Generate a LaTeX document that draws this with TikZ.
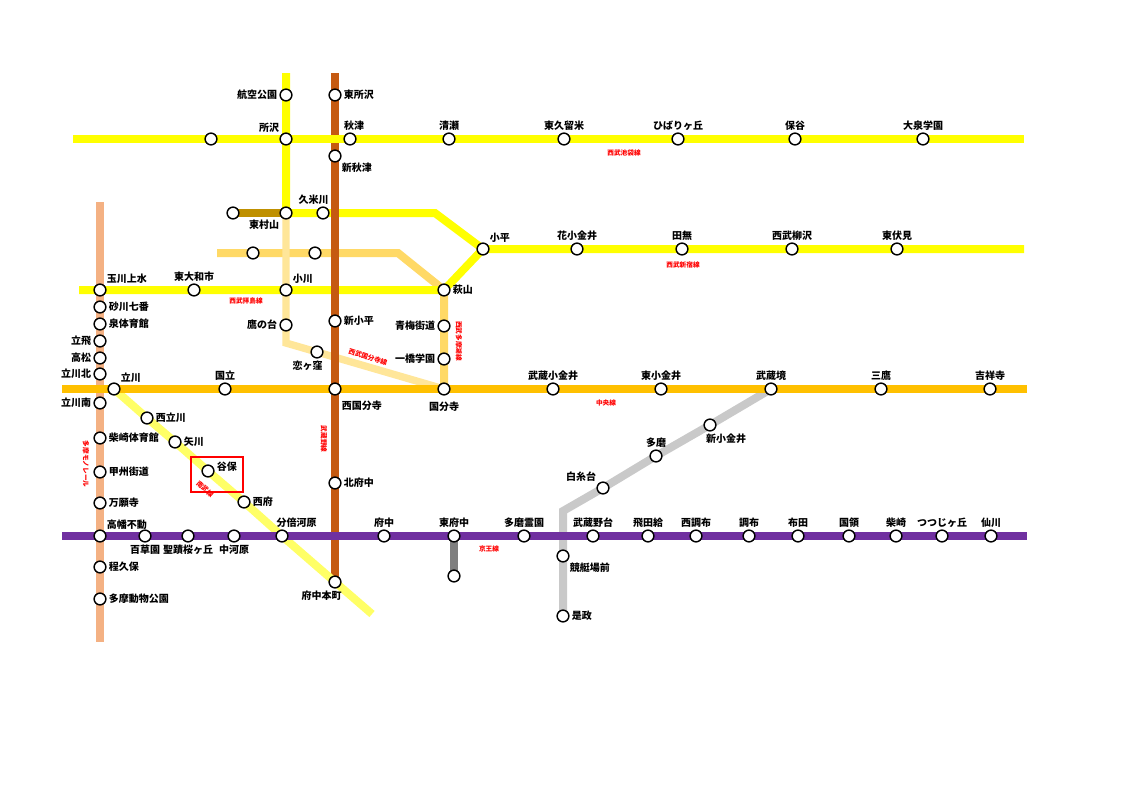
\documentclass[tikz,border=0pt]{standalone}
\usepackage{fontspec}
\setmainfont{Noto Sans CJK JP}

\definecolor{seibu}{HTML}{FFFF00}
\definecolor{tamako}{HTML}{FFD966}
\definecolor{kokubunjisen}{HTML}{FFE699}
\definecolor{yuenchi}{HTML}{BF9000}
\definecolor{musashino}{HTML}{C55A11}
\definecolor{chuo}{HTML}{FFC000}
\definecolor{monorail}{HTML}{F4B183}
\definecolor{nanbu}{HTML}{FFFF66}
\definecolor{keio}{HTML}{7030A0}
\definecolor{keibajo}{HTML}{7F7F7F}
\definecolor{tamagawa}{HTML}{C9C9C9}
\definecolor{notered}{HTML}{FF0000}

\pgfdeclarelayer{rails}
\pgfsetlayers{rails,main}

\tikzset{
  stn/.style={circle, draw, fill=white, line width=1.1pt, minimum size=8.8pt, inner sep=0pt},
  rail/.style={line width=6pt},
  linename/.style={text=notered, font=\fontsize{5}{5}\selectfont\bfseries, inner sep=0pt},
  every label/.style={font=\fontsize{7.5}{8}\selectfont\bfseries, inner sep=1.5pt},
}

\begin{document}
\begin{tikzpicture}[x=0.75pt, y=-0.75pt]
   \useasboundingbox (0,0) rectangle (1133,800);

   % Seibu Ikebukuro
   \node[stn] (nishitokorozawa) at (211,139) {};
   \node[stn, label=above left:所沢] (tokorozawa) at (286,139) {};
   \node[stn, label={[xshift=3pt]above:秋津}] (akitsu) at (350,139) {};
   \node[stn, label=above:清瀬] (kiyose) at (449,139) {};
   \node[stn, label=above:東久留米] (higashikurume) at (564,139) {};
   \node[stn, label=above:ひばりヶ丘] (hibarigaoka) at (678,139) {};
   \node[stn, label=above:保谷] (hoya) at (795,139) {};
   \node[stn, label=above:大泉学園] (oizumi) at (923,139) {};

   % Seibu Shinjuku
   \node[stn, label=left:航空公園] (kokukoen) at (286,95) {};
   \node[stn, label=below left:東村山] (higashimurayama) at (286,213) {};
   \node[stn, label={[xshift=-7pt]above:久米川}] (kumegawa) at (323,213) {};
   \node[stn] (seibuen) at (233,213) {};
   \node[stn, label=above right:小平] (kodaira) at (483,249) {};
   \node[stn, label=above:花小金井] (hanakoganei) at (577,249) {};
   \node[stn, label=above:田無] (tanashi) at (682,249) {};
   \node[stn, label=above:西武柳沢] (yagisawa) at (792,249) {};
   \node[stn, label=above:東伏見] (higashifushimi) at (897,249) {};

   % Haijima, Tamako, Kokubunji
   \node[stn, label=above right:玉川上水] (tamagawajosui) at (100,290) {};
   \node[stn, label=above:東大和市] (higashiyamato) at (194,290) {};
   \node[stn, label=above right:小川] (ogawa) at (286,290) {};
   \node[stn, label=right:萩山] (hagiyama) at (444,290) {};
   \node[stn] (musashiyamato) at (253,253) {};
   \node[stn] (yasaka) at (315,253) {};
   \node[stn, label=left:青梅街道] (omekaido) at (444,326) {};
   \node[stn, label=left:一橋学園] (hitotsubashi) at (444,359) {};
   \node[stn, label=left:鷹の台] (takanodai) at (286,325) {};
   \node[stn, label={[xshift=-7pt]below:恋ヶ窪}] (koigakubo) at (317,352) {};

   % Musashino
   \node[stn, label=right:東所沢] (higashitokorozawa) at (335,95) {};
   \node[stn, label=below right:新秋津] (shinakitsu) at (335,156) {};
   \node[stn, label=right:新小平] (shinkodaira) at (335,321) {};
   \node[stn, label={[yshift=-4pt]below right:西国分寺}] (nishikokubunji) at (335,389) {};
   \node[stn, label=right:北府中] (kitafuchu) at (335,483) {};
   \node[stn, label={[xshift=-10pt]below:府中本町}] (fuchuhonmachi) at (335,582) {};

   % Chuo
   \node[stn, label=above right:立川] (tachikawa) at (114,389) {};
   \node[stn, label=above:国立] (kunitachi) at (225,389) {};
   \node[stn, label={[yshift=-3pt]below:国分寺}] (kokubunji) at (444,389) {};
   \node[stn, label=above:武蔵小金井] (musashikoganei) at (553,389) {};
   \node[stn, label=above:東小金井] (higashikoganei) at (661,389) {};
   \node[stn, label=above:武蔵境] (musashisakai) at (771,389) {};
   \node[stn, label=above:三鷹] (mitaka) at (881,389) {};
   \node[stn, label=above:吉祥寺] (kichijoji) at (990,389) {};

   % Tama monorail
   \node[stn, label=right:砂川七番] (sunagawa) at (100,307) {};
   \node[stn, label=right:泉体育館] (izumi) at (100,324) {};
   \node[stn, label=left:立飛] (tachihi) at (100,341) {};
   \node[stn, label=left:高松] (takamatsu) at (100,358) {};
   \node[stn, label=left:立川北] (tachikawakita) at (100,374) {};
   \node[stn, label=left:立川南] (tachikawaminami) at (100,403) {};
   \node[stn, label=right:柴崎体育館] (shibasakitaiiku) at (100,438) {};
   \node[stn, label=right:甲州街道] (koshukaido) at (100,472) {};
   \node[stn, label=right:万願寺] (manganji) at (100,503) {};
   \node[stn, label=above right:高幡不動] (takahatafudo) at (100,536) {};
   \node[stn, label=right:程久保] (hodokubo) at (100,567) {};
   \node[stn, label=right:多摩動物公園] (tamadobutsu) at (100,599) {};

   % Nanbu
   \node[stn, label=right:西立川] (nishitachikawa) at (147,418) {};
   \node[stn, label=right:矢川] (yagawa) at (175,442) {};
   \node[stn, label={[yshift=3pt]right:谷保}] (yaho) at (208,471) {};
   \node[stn, label=right:西府] (nishifu) at (244,502) {};
   \node[stn, label={[xshift=11pt]above:分倍河原}] (bubaigawara) at (282,536) {};

   % Keio
   \node[stn, label=below:百草園] (mogusaen) at (145,536) {};
   \node[stn, label=below:聖蹟桜ヶ丘] (seiseki) at (188,536) {};
   \node[stn, label=below:中河原] (nakagawara) at (234,536) {};
   \node[stn, label=above:府中] (fuchu) at (384,536) {};
   \node[stn, label=above:東府中] (higashifuchu) at (454,536) {};
   \node[stn] (keibajomae) at (454,576) {};
   \node[stn, label=above:多磨霊園] (tamareien) at (524,536) {};
   \node[stn, label=above:武蔵野台] (musashinodai) at (593,536) {};
   \node[stn, label=above:飛田給] (tobitakyu) at (648,536) {};
   \node[stn, label=above:西調布] (nishichofu) at (696,536) {};
   \node[stn, label=above:調布] (chofu) at (749,536) {};
   \node[stn, label=above:布田] (fuda) at (798,536) {};
   \node[stn, label=above:国領] (kokuryo) at (849,536) {};
   \node[stn, label=above:柴崎] (shibasaki) at (896,536) {};
   \node[stn, label=above:つつじヶ丘] (tsutsujigaoka) at (942,536) {};
   \node[stn, label=above:仙川] (sengawa) at (991,536) {};

   % Seibu Tamagawa
   \node[stn, label={[xshift=12pt]below:新小金井}] (shinkoganei) at (710,425) {};
   \node[stn, label=above:多磨] (tama) at (656,456) {};
   \node[stn, label=above left:白糸台] (shiraitodai) at (603,488) {};
   \node[stn, label=below right:競艇場前] (kyoteijomae) at (563,556) {};
   \node[stn, label=right:是政] (koremasa) at (563,616) {};

   % line names
   \node[linename] (n-ikebukuro) at (624,153) {西武池袋線};
   \node[linename] (n-shinjuku) at (683,265) {西武新宿線};
   \node[linename] (n-haijima) at (246,301) {西武拝島線};
   \node[linename, rotate=-18] (n-kokubunji) at (368,357) {西武国分寺線};
   \node[linename, rotate=-90] (n-tamako) at (459,341) {西武多摩湖線};
   \node[linename, rotate=-90] (n-musashino) at (324,439) {武蔵野線};
   \node[linename] (n-chuo) at (606,403) {中央線};
   \node[linename] (n-keio) at (489,549) {京王線};
   \node[linename, rotate=-41] (n-nanbu) at (205,489) {南武線};
   \node[linename, rotate=-90] (n-monorail) at (86,464) {多摩モノレール};

   \draw[notered, line width=2pt] (191,457) rectangle (243,492);

   \begin{pgfonlayer}{rails}
   \fill[white] (0,0) rectangle (1133,800);
   \coordinate (mono-n) at (100,202);
   \coordinate (mono-s) at (100,642);
   \coordinate (tamako-w) at (217,253);
   \coordinate (tamako-b) at (398,253);
   \coordinate (kokubunji-b) at (286,343);
   \coordinate (haijima-w) at (79,290);
   \coordinate (shinjuku-n) at (286,73);
   \coordinate (shinjuku-b) at (435,213);
   \coordinate (shinjuku-e) at (1024,249);
   \coordinate (musashino-n) at (335,73);
   \coordinate (ikebukuro-w) at (73,139);
   \coordinate (ikebukuro-e) at (1024,139);
   \coordinate (tamagawa-b) at (563,511);
   \coordinate (nanbu-e) at (372,614);
   \coordinate (chuo-w) at (62,389);
   \coordinate (chuo-e) at (1027,389);
   \coordinate (keio-w) at (62,536);
   \coordinate (keio-e) at (1027,536);

   \draw[rail, monorail] (mono-n) -- (mono-s);
   \draw[rail, tamako] (tamako-w) -- (musashiyamato.center) -- (yasaka.center) -- (tamako-b)
      -- (hagiyama.center) -- (omekaido.center) -- (hitotsubashi.center) -- (kokubunji.center);
   \draw[rail, kokubunjisen, line width=5.5pt] (higashimurayama.center) -- (ogawa.center) -- (takanodai.center)
      -- (kokubunji-b) -- (koigakubo.center) -- (kokubunji.center);
   \draw[rail, yuenchi] (seibuen.center) -- (higashimurayama.center);
   \draw[rail, seibu] (haijima-w) -- (tamagawajosui.center) -- (higashiyamato.center) -- (ogawa.center)
      -- (hagiyama.center) -- (kodaira.center);
   \draw[rail, seibu] (shinjuku-n) -- (kokukoen.center) -- (tokorozawa.center) -- (higashimurayama.center)
      -- (kumegawa.center) -- (shinjuku-b) -- (kodaira.center) -- (hanakoganei.center) -- (tanashi.center)
      -- (yagisawa.center) -- (higashifushimi.center) -- (shinjuku-e);
   \draw[rail, musashino] (musashino-n) -- (higashitokorozawa.center) -- (shinakitsu.center)
      -- (shinkodaira.center) -- (nishikokubunji.center) -- (kitafuchu.center) -- (fuchuhonmachi.center);
   \draw[rail, seibu] (ikebukuro-w) -- (ikebukuro-e);
   \draw[rail, tamagawa] (musashisakai.center) -- (shinkoganei.center) -- (tama.center) -- (shiraitodai.center)
      -- (tamagawa-b) -- (kyoteijomae.center) -- (koremasa.center);
   \draw[rail, keibajo] (higashifuchu.center) -- (keibajomae.center);
   \draw[rail, nanbu] (tachikawa.center) -- (nishitachikawa.center) -- (yagawa.center) -- (yaho.center)
      -- (nishifu.center) -- (bubaigawara.center) -- (fuchuhonmachi.center) -- (nanbu-e);
   \draw[rail, chuo] (chuo-w) -- (chuo-e);
   \draw[rail, keio] (keio-w) -- (keio-e);
   \end{pgfonlayer}
\end{tikzpicture}
\end{document}
